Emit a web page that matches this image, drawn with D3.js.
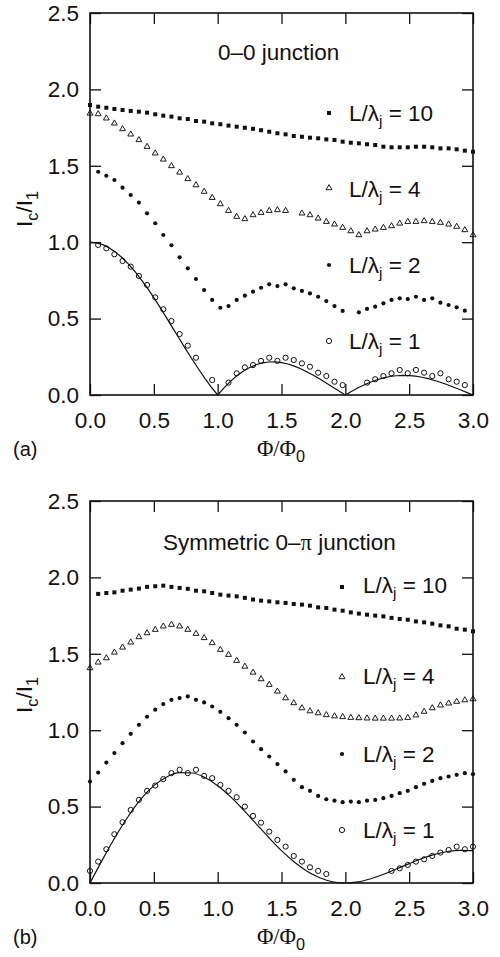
<!DOCTYPE html>
<html><head><meta charset="utf-8">
<script src="https://cdn.jsdelivr.net/npm/d3@7"></script>
<style>
body{margin:0;background:#fff;}
svg{display:block;}
text{font-family:"Liberation Sans",Arial,Helvetica,sans-serif;fill:#111;}
</style></head><body>
<svg id="chart" width="500" height="957"></svg>
<script>
// ---------------- DATA ----------------
const phi = [0,0.064,0.128,0.191,0.255,0.319,0.383,0.447,0.511,0.574,0.638,0.702,0.766,0.830,0.894,0.957,
  1.021,1.085,1.149,1.213,1.277,1.340,1.404,1.468,1.532,1.596,1.660,1.723,1.787,1.851,1.915,1.979,
  2.043,2.106,2.170,2.234,2.298,2.362,2.426,2.489,2.553,2.617,2.681,2.745,2.809,2.872,2.936,3.000];

// (a) 0-0 junction
const a_L10 = [1.898,1.887,1.880,1.872,1.865,1.859,1.854,1.848,1.837,1.828,1.822,1.811,1.806,1.793,1.789,1.778,1.772,1.763,1.756,1.749,
  1.742,1.733,1.723,1.713,1.706,1.695,1.690,1.684,1.680,1.673,1.669,1.658,1.651,1.647,1.641,1.636,1.625,1.621,1.621,1.621,1.625,1.625,1.621,1.614,1.614,1.608,1.599,1.592];
const a_L4 = [1.843,1.839,1.811,1.778,1.741,1.706,1.669,1.625,1.582,1.542,1.499,1.457,1.414,1.374,1.331,1.291,1.250,1.206,1.167,1.152,
  1.178,1.193,1.206,1.211,1.206,null,1.189,1.178,1.156,1.134,1.117,1.095,1.073,1.047,1.073,1.084,1.095,1.106,1.123,1.134,1.134,1.139,1.134,1.128,1.117,1.102,1.080,1.047];
const a_L2 = [null,1.461,1.435,1.407,1.357,1.309,1.259,1.189,1.124,1.047,0.980,0.901,0.829,0.759,0.687,0.622,0.571,0.582,0.622,0.650,
  0.676,0.702,0.724,0.713,0.724,0.698,0.681,0.665,0.643,0.615,0.582,0.550,null,0.541,0.563,0.578,0.600,0.622,0.633,0.628,0.643,0.622,0.633,0.604,0.589,0.574,0.552,null];
const a_L1 = [null,0.982,0.960,0.921,0.877,0.840,0.779,0.720,0.639,0.561,0.484,0.399,0.323,0.244,null,0.098,null,0.081,0.142,0.181,
  0.196,0.223,0.244,0.223,0.244,0.229,0.207,0.185,0.146,0.124,0.087,0.065,null,null,0.081,0.103,0.124,0.142,0.164,0.142,0.164,0.146,0.124,0.142,0.103,0.087,0.065,null];
const a_curvePhi = [0,0.05,0.1,0.15,0.2,0.25,0.3,0.35,0.4,0.45,0.5,0.55,0.6,0.65,0.7,0.75,0.8,0.85,0.9,0.95,
  1,1.05,1.1,1.15,1.2,1.25,1.3,1.35,1.4,1.45,1.5,1.55,1.6,1.65,1.7,1.75,1.8,1.85,1.9,1.95,
  2,2.05,2.1,2.15,2.2,2.25,2.3,2.35,2.4,2.45,2.5,2.55,2.6,2.65,2.7,2.75,2.8,2.85,2.9,2.95,3];
const a_curve = [1,0.996,0.984,0.963,0.935,0.900,0.858,0.810,0.757,0.699,0.637,0.572,0.505,0.436,0.368,0.300,0.234,0.170,0.109,0.052,
  0,0.047,0.089,0.126,0.156,0.180,0.198,0.210,0.216,0.217,0.212,0.203,0.189,0.172,0.151,0.129,0.104,0.078,0.052,0.026,
  0,0.024,0.047,0.067,0.085,0.100,0.112,0.121,0.126,0.128,0.127,0.123,0.116,0.107,0.095,0.082,0.067,0.051,0.034,0.017,0];

// (b) symmetric 0-pi junction
const b_L10 = [null,1.892,1.898,1.902,1.913,1.920,1.927,1.938,1.942,1.946,1.938,1.931,1.925,1.913,1.909,1.898,1.887,1.881,1.876,1.866,
  1.855,1.848,1.843,1.837,1.833,1.826,1.822,1.815,1.804,1.800,1.789,1.782,1.771,1.763,1.756,1.750,1.745,1.735,1.728,1.723,1.712,1.706,1.697,1.686,1.680,1.664,1.658,1.647];
const b_L4 = [1.407,1.444,1.472,1.509,1.542,1.575,1.610,1.636,1.658,1.680,1.691,1.680,1.658,1.632,1.604,1.571,1.527,1.494,1.455,1.417,
  1.378,1.335,1.298,1.254,1.210,1.178,1.145,1.125,1.112,1.100,1.092,1.087,1.082,1.080,1.078,1.077,1.077,1.077,1.078,1.082,1.098,1.122,1.145,1.163,1.176,1.187,1.197,1.204];
const b_L2 = [0.664,0.723,0.788,0.850,0.915,0.976,1.035,1.088,1.134,1.171,1.199,1.210,1.221,1.199,1.182,1.155,1.120,1.079,1.035,0.985,
  0.926,0.876,0.828,0.778,0.730,0.675,0.627,0.603,0.570,0.548,0.539,0.529,0.533,0.529,0.539,0.544,0.555,0.570,0.588,0.603,0.627,0.649,0.668,0.686,0.697,0.708,0.719,0.712];
const b_L1 = [0.079,0.140,0.221,0.319,0.398,0.478,0.544,0.603,0.638,0.680,0.719,0.741,0.719,0.741,0.701,0.686,0.642,0.603,0.561,0.500,
  0.439,0.395,0.336,0.282,0.238,0.177,0.140,0.103,0.079,0.059,null,null,null,null,null,null,null,0.079,0.096,0.118,0.140,0.155,0.177,0.199,0.216,0.238,0.221,0.238];
const b_curvePhi = [0,0.1,0.2,0.3,0.4,0.5,0.6,0.7,0.8,0.9,1,1.1,1.2,1.3,1.4,1.5,1.6,1.7,1.8,1.9,2,2.1,2.2,2.3,2.4,2.5,2.6,2.7,2.8,2.9,3];
const b_curve = [0,0.156,0.304,0.437,0.550,0.637,0.694,0.722,0.720,0.690,0.637,0.565,0.480,0.389,0.298,0.212,0.138,0.077,0.034,0.008,
  0,0.007,0.028,0.057,0.092,0.127,0.160,0.187,0.206,0.214,0.212];

const legendValues = ["10","4","2","1"];
const xTicks = [0,0.5,1,1.5,2,2.5,3];
const yTicks = [0,0.5,1,1.5,2,2.5];
const titles = ["0–0 junction","Symmetric 0–π junction"];
const panelLabels = ["(a)","(b)"];

// ---------------- LAYOUT ----------------
const FS = 22.5;
const svg = d3.select("#chart");
const INK = "#111";

const panels = [
  {bottom:395, series:[a_L10,a_L4,a_L2,a_L1], curvePhi:a_curvePhi, curve:a_curve, curveType:d3.curveLinear,
   title:titles[0], titleX:218, titleY:60, label:panelLabels[0], labelY:456, xTitleY:456, yTitleCY:209,
   legX:329, legTX:349, legMY:[113,188,265,341], legTY:[121,197,273,349]},
  {bottom:883, series:[b_L10,b_L4,b_L2,b_L1], curvePhi:b_curvePhi, curve:b_curve, curveType:d3.curveMonotoneX,
   title:titles[1], titleX:163, titleY:550, label:panelLabels[1], labelY:944, xTitleY:944, yTitleCY:695,
   legX:342, legTX:363, legMY:[587,677,754,830], legTY:[593,684,762,838]}
];

const markerKinds = ["square","triangle","dot","circle"];

function drawMarker(g, kind, cx, cy){
  if(kind==="square"){
    g.append("rect").attr("x",cx-2).attr("y",cy-2).attr("width",4).attr("height",4).attr("fill",INK);
  } else if(kind==="dot"){
    g.append("circle").attr("cx",cx).attr("cy",cy).attr("r",2.1).attr("fill",INK);
  } else if(kind==="circle"){
    g.append("circle").attr("cx",cx).attr("cy",cy).attr("r",2.6).attr("fill","none").attr("stroke",INK).attr("stroke-width",1);
  } else {
    g.append("path").attr("d",d3.symbol(d3.symbolTriangle,15)()).attr("transform",`translate(${cx},${cy})`)
      .attr("fill","none").attr("stroke",INK).attr("stroke-width",0.95);
  }
}

panels.forEach(p=>{
  const g = svg.append("g");
  const x = d3.scaleLinear().domain([0,3]).range([90,473]);
  const y = d3.scaleLinear().domain([0,2.5]).range([p.bottom,p.bottom-382]);

  const styleAxis = sel => {
    sel.select(".domain").remove();
    sel.selectAll(".tick line").attr("stroke",INK).attr("stroke-width",1.3);
    sel.selectAll(".tick text").attr("font-size",FS).attr("font-family","Liberation Sans, Arial, sans-serif").attr("fill",INK);
    sel.attr("font-size",null).attr("font-family",null);
  };
  const fmt = d3.format(".1f");
  g.append("g").attr("transform",`translate(0,${y(0)})`)
    .call(d3.axisBottom(x).tickValues(xTicks).tickSize(-11).tickPadding(17).tickFormat(fmt)).call(styleAxis);
  g.append("g").attr("transform",`translate(0,${y(2.5)})`)
    .call(d3.axisTop(x).tickValues(xTicks).tickSize(-11).tickFormat("")).call(styleAxis);
  g.append("g").attr("transform",`translate(${x(0)},0)`)
    .call(d3.axisLeft(y).tickValues(yTicks).tickSize(-11).tickPadding(11).tickFormat(fmt)).call(styleAxis);
  g.append("g").attr("transform",`translate(${x(3)},0)`)
    .call(d3.axisRight(y).tickValues(yTicks).tickSize(-11).tickFormat("")).call(styleAxis);

  g.append("rect").attr("x",x(0)).attr("y",y(2.5)).attr("width",x(3)-x(0)).attr("height",y(0)-y(2.5))
    .attr("fill","none").attr("stroke",INK).attr("stroke-width",1.6);

  // theory curve
  const cdata = p.curvePhi.map((v,i)=>[v,p.curve[i]]);
  g.append("path").datum(cdata)
    .attr("d",d3.line().x(d=>x(d[0])).y(d=>y(d[1])).curve(p.curveType))
    .attr("fill","none").attr("stroke",INK).attr("stroke-width",1.2);

  // series markers
  p.series.forEach((s,si)=>{
    const mg = g.append("g");
    s.forEach((v,i)=>{ if(v!==null) drawMarker(mg, markerKinds[si], x(phi[i]), y(v)); });
  });

  // legend
  legendValues.forEach((lv,i)=>{
    drawMarker(g, markerKinds[i], p.legX, p.legMY[i]);
    const t = g.append("text").attr("x",p.legTX).attr("y",p.legTY[i]).attr("font-size",FS);
    t.append("tspan").text("L/λ");
    t.append("tspan").attr("font-size",FS*0.68).attr("dy",5).text("j");
    t.append("tspan").attr("dy",-5).text(" = "+lv);
  });

  // title
  const tt = g.append("text").attr("x",p.titleX).attr("y",p.titleY).attr("font-size",FS);
  if(p.title.indexOf("π")>=0){
    const parts = p.title.split("π");
    tt.append("tspan").text(parts[0]);
    tt.append("tspan").attr("font-family","Liberation Serif, Times New Roman, serif").text("π");
    tt.append("tspan").text(parts[1]);
  } else tt.text(p.title);

  // x-axis title  Φ/Φ0
  const xt = g.append("text").attr("x",281).attr("y",p.xTitleY).attr("text-anchor","middle").attr("font-size",FS);
  xt.append("tspan").attr("font-family","Liberation Serif, Times New Roman, serif").text("Φ/Φ");
  xt.append("tspan").attr("font-size",FS*0.72).attr("dy",6).text("0");

  // y-axis title Ic/I1
  const yt = g.append("text").attr("transform",`translate(32,${p.yTitleCY}) rotate(-90)`).attr("text-anchor","middle").attr("font-size",FS);
  yt.append("tspan").text("I");
  yt.append("tspan").attr("font-size",FS*0.72).attr("dy",6).text("c");
  yt.append("tspan").attr("dy",-6).text("/I");
  yt.append("tspan").attr("font-size",FS*0.72).attr("dy",6).text("1");

  // panel label
  g.append("text").attr("x",13).attr("y",p.labelY).attr("font-size",20).text(p.label);
});
</script>
</body></html>
